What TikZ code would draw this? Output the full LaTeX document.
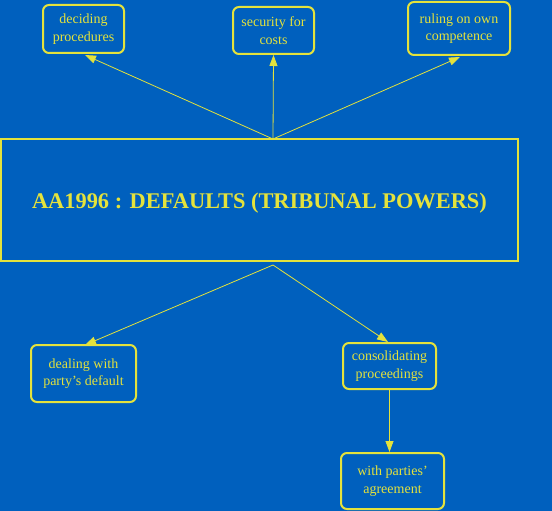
\documentclass[tikz,border=0pt]{standalone}
\usepackage{fontspec}
\setmainfont{Liberation Serif}
\usetikzlibrary{arrows.meta}
\definecolor{bg}{RGB}{0,96,190}
\definecolor{yl}{RGB}{228,226,60}
\newcommand{\sq}{{\char"0027}}
\begin{document}
\begin{tikzpicture}[x=1pt,y=-1pt,
  box/.style={draw=yl,line width=2pt,rounded corners=6pt,inner sep=0pt,text=yl,align=center,
    font=\fontsize{14}{17.5}\selectfont},
  conn/.style={draw=yl,line width=0.8pt,-{Triangle[length=11pt,width=8pt]}}]
\fill[bg] (0,0) rectangle (552,511);
\useasboundingbox (0,0) rectangle (552,511);
% main box
\node[draw=yl,line width=2pt,minimum width=517pt,minimum height=122pt,inner sep=0pt,text=yl,
  font=\bfseries\fontsize{22.4}{26}\selectfont] (main) at (259.5,200)
  {\raisebox{-9pt}[0pt][0pt]{AA1996 : DEFAULTS (TRIBUNAL POWERS)}};
% top nodes
\node[box,minimum width=81pt,minimum height=48pt] (dec) at (83.5,29) {deciding\\procedures};
\node[box,minimum width=81pt,minimum height=47pt] (sec) at (273.5,30.5) {security for\\costs};
\node[box,minimum width=102pt,minimum height=53pt] (rul) at (459,28.5) {ruling on own\\competence};
% bottom nodes
\node[box,minimum width=105pt,minimum height=57pt] (deal) at (83.5,373.5) {dealing with\\party\sq s default};
\node[box,minimum width=93pt,minimum height=46pt] (cons) at (389.5,366) {consolidating\\proceedings};
\node[box,minimum width=103pt,minimum height=56pt] (agr) at (392.5,481) {with parties\sq\\agreement};
% connectors
\coordinate (top) at (273,139);
\coordinate (bot) at (273,265);
\draw[conn] (top) -- (85,55);
\draw[conn] (top) -- (sec.south);
\draw[conn] (top) -- (460,57);
\draw[conn] (bot) -- (85,345);
\draw[conn] (bot) -- (388,342);
\draw[conn] (cons.south) -- (agr.north -| cons.south);
\end{tikzpicture}
\end{document}
